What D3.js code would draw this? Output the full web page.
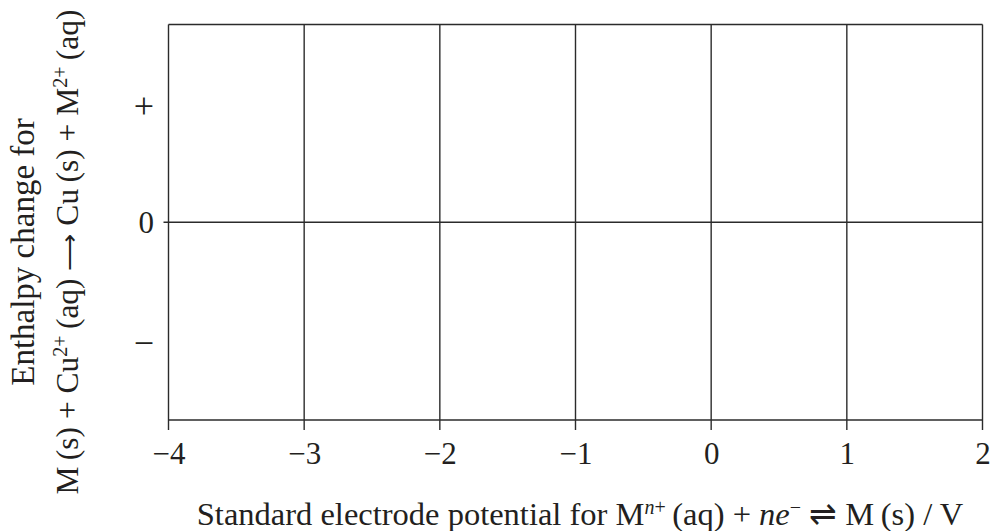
<!DOCTYPE html>
<html>
<head>
<meta charset="utf-8">
<script src="https://cdn.jsdelivr.net/npm/d3@7"></script>
<style>
  body { margin: 0; background: #fff; }
  svg text { font-family: "Liberation Serif", "Times New Roman", serif; fill: #231f20; }
</style>
</head>
<body>
<div id="chart"></div>
<script>
// axis values
const xTicks = [-4, -3, -2, -1, 0, 1, 2];
const xGrid = [-4, -3, -2, -1, 0, 1, 2];
const yRules = [1, 0, -1];
const ySigns = ["+", "0", "\u2212"];
const ySignPos = [0.59, 0, -0.61];

const width = 991;
const height = 531;
const lineColor = "#2b2b2b";

const svg = d3.select("#chart")
  .append("svg")
  .attr("width", width)
  .attr("height", height);

const x = d3.scaleLinear().domain([-4, 2]).range([168.5, 982.5]);
const y = d3.scaleLinear().domain([-1, 1]).range([420, 24.5]);

// vertical grid lines, running down past the frame as tick marks
svg.append("g")
  .selectAll("line")
  .data(xGrid)
  .join("line")
  .attr("x1", d => x(d))
  .attr("x2", d => x(d))
  .attr("y1", y(1))
  .attr("y2", y(-1) + 10)
  .attr("stroke", lineColor)
  .attr("stroke-width", 1.4);

// horizontal rules: top, zero, bottom
svg.append("g")
  .selectAll("line")
  .data(yRules)
  .join("line")
  .attr("x1", d => d === 0 ? x(-4) - 5 : x(-4))
  .attr("x2", x(2))
  .attr("y1", d => y(d))
  .attr("y2", d => y(d))
  .attr("stroke", lineColor)
  .attr("stroke-width", 1.4);

// x tick labels
const xAxis = d3.axisBottom(x)
  .tickValues(xTicks)
  .tickSize(0)
  .tickPadding(0)
  .tickFormat(d => d < 0 ? "\u2212" + Math.abs(d) : d);

const gx = svg.append("g")
  .attr("transform", `translate(0,${y(-1)})`)
  .call(xAxis);
gx.select(".domain").remove();
gx.selectAll("text")
  .attr("y", 44)
  .attr("dy", null)
  .attr("font-family", null)
  .style("font-size", "31px");

// y sign labels (+, 0, -)
svg.append("g")
  .selectAll("text")
  .data(ySigns)
  .join("text")
  .attr("x", 154)
  .attr("y", (d, i) => y(ySignPos[i]))
  .attr("dy", "0.35em")
  .attr("text-anchor", "end")
  .style("font-size", (d, i) => i === 1 ? "31px" : "36px")
  .text(d => d);

// x axis title
const xt = svg.append("text")
  .attr("x", 580)
  .attr("y", 525)
  .attr("text-anchor", "middle")
  .style("font-size", "32.5px");
xt.append("tspan").text("Standard electrode potential for M");
xt.append("tspan").attr("baseline-shift", "super").style("font-size", "20px")
  .append("tspan").style("font-style", "italic").text("n");
xt.select("tspan:last-child").append("tspan").text("+");
xt.append("tspan").text("\u2009(aq) + ");
xt.append("tspan").style("font-style", "italic").text("ne");
xt.append("tspan").attr("baseline-shift", "super").style("font-size", "20px").text("\u2212");
xt.append("tspan").text(" \u21CC M\u2009(s) / V");

// y axis title, two lines
const cy = 252;
svg.append("text")
  .attr("transform", `translate(34,${cy}) rotate(-90)`)
  .attr("text-anchor", "middle")
  .style("font-size", "33px")
  .text("Enthalpy change for");

const yt = svg.append("text")
  .attr("transform", `translate(78,${cy}) rotate(-90)`)
  .attr("text-anchor", "middle")
  .style("font-size", "31.5px");
yt.append("tspan").text("M\u2009(s) + Cu");
yt.append("tspan").attr("baseline-shift", "super").style("font-size", "20px").text("2+");
yt.append("tspan").text("\u2009(aq) ");
yt.append("tspan").style("font-size", "26px").text("\u27F6");
yt.append("tspan").text(" Cu\u2009(s) + M");
yt.append("tspan").attr("baseline-shift", "super").style("font-size", "20px").text("2+");
yt.append("tspan").text("\u2009(aq)");
</script>
</body>
</html>
